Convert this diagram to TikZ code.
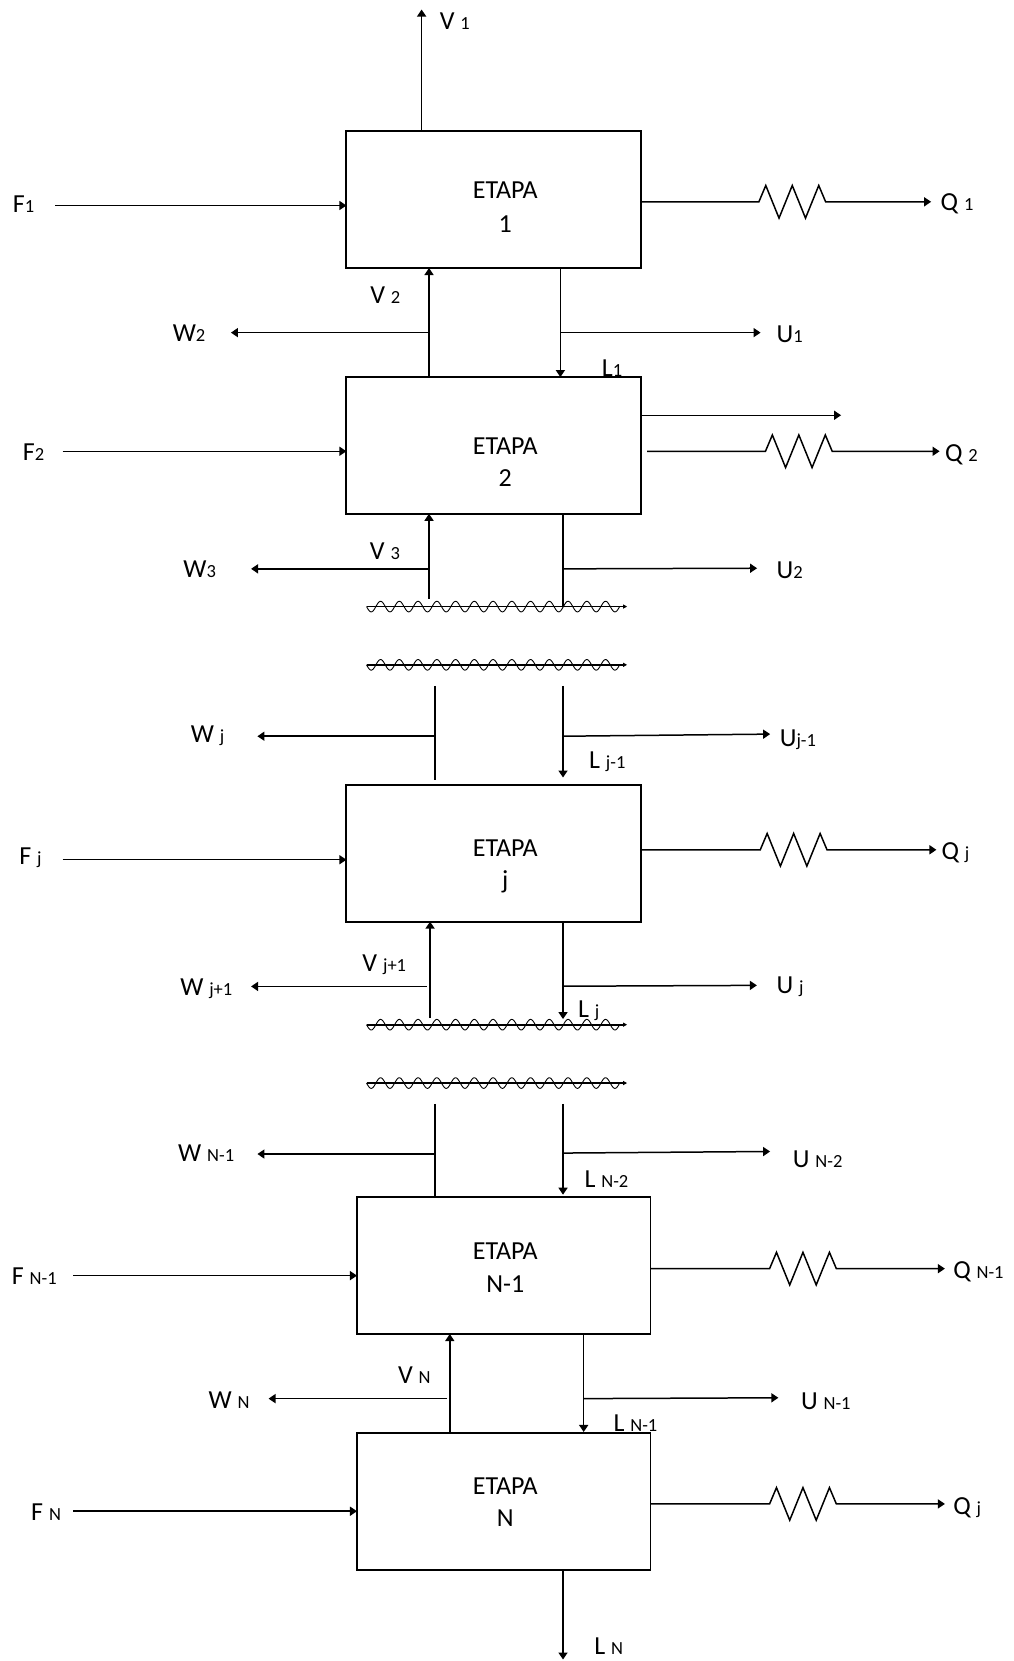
\documentclass[tikz,border=0pt]{standalone}
\usepackage{fontspec}
\setmainfont{Carlito}
\usetikzlibrary{arrows.meta}
\newcommand{\sbs}[1]{{\fontsize{18.5}{20}\selectfont#1}}
\newcommand{\heatflow}[5]{% name, y, x start, x zigzag, x tip
  \coordinate (#1s) at (#3,#2);
  \coordinate (#1e) at (#5,#2);
  \draw[conn] (#1s) -- (#4,#2) -- ++(6.5,-15.4) -- ++(12.5,30.8) -- ++(12.5,-30.8)
    -- ++(12.5,30.8) -- ++(12.5,-30.8) -- ++(6.5,15.4) -- (#1e);
}
\newcommand{\wavybreak}[2]{% name, y
  \coordinate (#1a) at (346,#2);
  \coordinate (#1b) at (592,#2);
  \draw[waveline] (#1a) -- (#1b);
  \draw[wave] plot[domain=0:239,samples=400,smooth] ({346+\x},{#2+5*sin(\x*20.34)});
}
\begin{document}
\begin{tikzpicture}[x=1.0596pt,y=-1.0596pt,
  conn/.style={line width=1.5pt,-{Triangle[length=7pt,width=9pt]}},
  seg/.style={line width=1.5pt},
  stage/.style={draw,line width=1.8pt,inner sep=0,minimum width=294.6pt,minimum height=136.7pt},
  stagen/.style={stage,minimum width=293.5pt},
  lab/.style={inner sep=0,text height=16.5pt,text depth=0pt,anchor=west,font=\fontsize{26}{30}\selectfont},
  stxt/.style={inner sep=0,text height=16.5pt,text depth=0pt,font=\fontsize{26}{30}\selectfont},
  wave/.style={line width=0.9pt},
  waveline/.style={line width=1.8pt,-{Triangle[length=4pt,width=4pt]}}]
\fill[white] (0,0) rectangle (957,1568);
\useasboundingbox (0,0) rectangle (957,1568);

% ---------- stages ----------
\node[stage] (b1) at (466,188.5) {};
\node[stage] (b2) at (466,420.5) {};
\node[stage] (bj) at (466,805.5) {};
\node[stagen] (bn1) at (475.5,1194.5) {};
\node[stagen] (bn) at (475.5,1417.5) {};

\node[stxt] (t1a) at (477,179.3) {ETAPA};
\node[stxt] (t1b) at (477,211.5) {1};
\node[stxt] (t2a) at (477,420.8) {ETAPA};
\node[stxt] (t2b) at (477,451) {2};
\node[stxt] (tja) at (477,800.3) {ETAPA};
\node[stxt] (tjb) at (477,831) {j};
\node[stxt] (tn1a) at (477,1181.3) {ETAPA};
\node[stxt] (tn1b) at (477,1212.4) {N-1};
\node[stxt] (tna) at (477,1403) {ETAPA};
\node[stxt] (tnb) at (477,1433.3) {N};

% ---------- labels ----------
\node[lab] (lv1) at (415,20.5) {V \sbs{1}};
\node[lab] (lf1) at (12,193.2) {F\sbs{1}};
\node[lab] (lq1) at (887.8,190.5) {Q \sbs{1}};
\node[lab] (lv2) at (349.4,278.4) {V \sbs{2}};
\node[lab] (lw2) at (163,314.5) {W\sbs{2}};
\node[lab] (ll1) at (568,348) {L\sbs{1}};
\node[lab] (lu1) at (733,316) {U\sbs{1}};
\node[lab] (lf2) at (21.4,427) {F\sbs{2}};
\node[lab] (lq2) at (892,427.5) {Q \sbs{2}};
\node[lab] (lv3) at (349,520.6) {V \sbs{3}};
\node[lab] (lw3) at (173,537.5) {W\sbs{3}};
\node[lab] (lu2) at (733,538) {U\sbs{2}};
\node[lab] (lwj) at (180,693) {W \sbs{j}};
\node[lab] (luj1) at (736,697) {U\sbs{j-1}};
\node[lab] (llj1) at (556,718) {L \sbs{j-1}};
\node[lab] (lfj) at (18,808) {F \sbs{j}};
\node[lab] (lqj) at (888.7,804) {Q \sbs{j}};
\node[lab] (lvj1) at (342,909) {V \sbs{j+1}};
\node[lab] (lwj1) at (170,932) {W \sbs{j+1}};
\node[lab] (luj) at (733,930) {U \sbs{j}};
\node[lab] (llj) at (545.5,953) {L \sbs{j}};
\node[lab] (lwn1) at (168,1089) {W \sbs{N-1}};
\node[lab] (lun2) at (748.3,1094.4) {U \sbs{N-2}};
\node[lab] (lln2) at (551.6,1113.6) {L \sbs{N-2}};
\node[lab] (lfn1) at (11,1205.2) {F \sbs{N-1}};
\node[lab] (lqn1) at (899.7,1199) {Q \sbs{N-1}};
\node[lab] (lvn) at (375.6,1298.6) {V \sbs{N}};
\node[lab] (lwn) at (196.7,1322) {W \sbs{N}};
\node[lab] (lun1) at (756,1322.8) {U \sbs{N-1}};
\node[lab] (lln1) at (579,1343.3) {L \sbs{N-1}};
\node[lab] (lfn) at (29.3,1428) {F \sbs{N}};
\node[lab] (lqn) at (899.7,1422) {Q \sbs{j}};
\node[lab] (lln) at (560.8,1554.5) {L \sbs{N}};

% ---------- stage 1 ----------
\coordinate (v1a) at (398,124);
\coordinate (v1b) at (398,9);
\draw[conn] (v1a) -- (v1b);
\coordinate (f1a) at (52,194);
\coordinate (f1b) at (327,194);
\draw[conn] (f1a) -- (f1b);
\heatflow{q1}{190.5}{605}{716.4}{879}
\coordinate (v2a) at (405,356);
\coordinate (v2b) at (405,253);
\draw[conn] (v2a) -- (v2b);
\coordinate (w2a) at (405,314);
\coordinate (w2b) at (218,314);
\draw[conn] (w2a) -- (w2b);
\coordinate (l1a) at (529,253);
\coordinate (l1b) at (529,356);
\draw[conn] (l1a) -- (l1b);
\coordinate (u1a) at (529,314);
\coordinate (u1b) at (718,314);
\draw[conn] (u1a) -- (u1b);

% ---------- stage 2 ----------
\coordinate (x2a) at (605,392);
\coordinate (x2b) at (794,392);
\draw[conn] (x2a) -- (x2b);
\coordinate (f2a) at (59,426);
\coordinate (f2b) at (327,426);
\draw[conn] (f2a) -- (f2b);
\heatflow{q2}{426}{610.8}{722.6}{887}
\coordinate (v3a) at (405,565);
\coordinate (v3b) at (405,485);
\draw[conn] (v3a) -- (v3b);
\coordinate (w3a) at (405,537);
\coordinate (w3b) at (237,537);
\draw[conn] (w3a) -- (w3b);
\coordinate (l2a) at (531.5,485);
\coordinate (l2b) at (531.5,572.5);
\draw[seg] (l2a) -- (l2b);
\coordinate (u2a) at (531.5,537);
\coordinate (u2b) at (714.7,536.4);
\draw[conn] (u2a) -- (u2b);

\wavybreak{wa}{572.6}
\wavybreak{wb}{627.6}

% ---------- into stage j ----------
\coordinate (vja) at (410.5,647.4);
\coordinate (vjb) at (410.5,736);
\draw[seg] (vja) -- (vjb);
\coordinate (lj1a) at (531.5,647.4);
\coordinate (lj1b) at (531.5,734);
\draw[conn] (lj1a) -- (lj1b);
\coordinate (wja) at (410.5,695);
\coordinate (wjb) at (243,695);
\draw[conn] (wja) -- (wjb);
\coordinate (uj1a) at (531.5,695);
\coordinate (uj1b) at (727,693);
\draw[conn] (uj1a) -- (uj1b);

% ---------- stage j ----------
\coordinate (fja) at (59,811.6);
\coordinate (fjb) at (327,811.6);
\draw[conn] (fja) -- (fjb);
\heatflow{qj}{802.2}{605}{717.7}{884}
\coordinate (vj1a) at (406,961);
\coordinate (vj1b) at (406,870);
\draw[conn] (vj1a) -- (vj1b);
\coordinate (wj1a) at (403,931.2);
\coordinate (wj1b) at (237,931.2);
\draw[conn] (wj1a) -- (wj1b);
\coordinate (lja) at (531.5,870);
\coordinate (ljb) at (531.5,962);
\draw[conn] (lja) -- (ljb);
\coordinate (uja) at (531.5,931);
\coordinate (ujb) at (714.5,930.2);
\draw[conn] (uja) -- (ujb);

\wavybreak{wc}{967.3}
\wavybreak{wd}{1022.4}

% ---------- into stage N-1 ----------
\coordinate (vn1a) at (410.5,1042);
\coordinate (vn1b) at (410.5,1129.5);
\draw[seg] (vn1a) -- (vn1b);
\coordinate (ln2a) at (531.5,1042);
\coordinate (ln2b) at (531.5,1127.8);
\draw[conn] (ln2a) -- (ln2b);
\coordinate (wn1a) at (410.5,1089.4);
\coordinate (wn1b) at (243,1089.4);
\draw[conn] (wn1a) -- (wn1b);
\coordinate (un2a) at (531.5,1088.5);
\coordinate (un2b) at (727,1087);
\draw[conn] (un2a) -- (un2b);

% ---------- stage N-1 ----------
\coordinate (fn1a) at (69,1204.2);
\coordinate (fn1b) at (337,1204.2);
\draw[conn] (fn1a) -- (fn1b);
\heatflow{qn1}{1197.6}{614}{726.5}{892}
\coordinate (vna) at (424.6,1352);
\coordinate (vnb) at (424.6,1259.3);
\draw[conn] (vna) -- (vnb);
\coordinate (wna) at (422,1320.3);
\coordinate (wnb) at (253.5,1320.3);
\draw[conn] (wna) -- (wnb);
\coordinate (ln1a) at (551,1259.3);
\coordinate (ln1b) at (551,1351.8);
\draw[conn] (ln1a) -- (ln1b);
\coordinate (un1a) at (551,1320.3);
\coordinate (un1b) at (734.8,1319.5);
\draw[conn] (un1a) -- (un1b);

% ---------- stage N ----------
\coordinate (fna) at (69,1426.6);
\coordinate (fnb) at (337,1426.6);
\draw[conn] (fna) -- (fnb);
\heatflow{qn}{1419.7}{614}{726.5}{892}
\coordinate (lna) at (531.5,1481.7);
\coordinate (lnb) at (531.5,1566.6);
\draw[conn] (lna) -- (lnb);
\end{tikzpicture}
\end{document}
